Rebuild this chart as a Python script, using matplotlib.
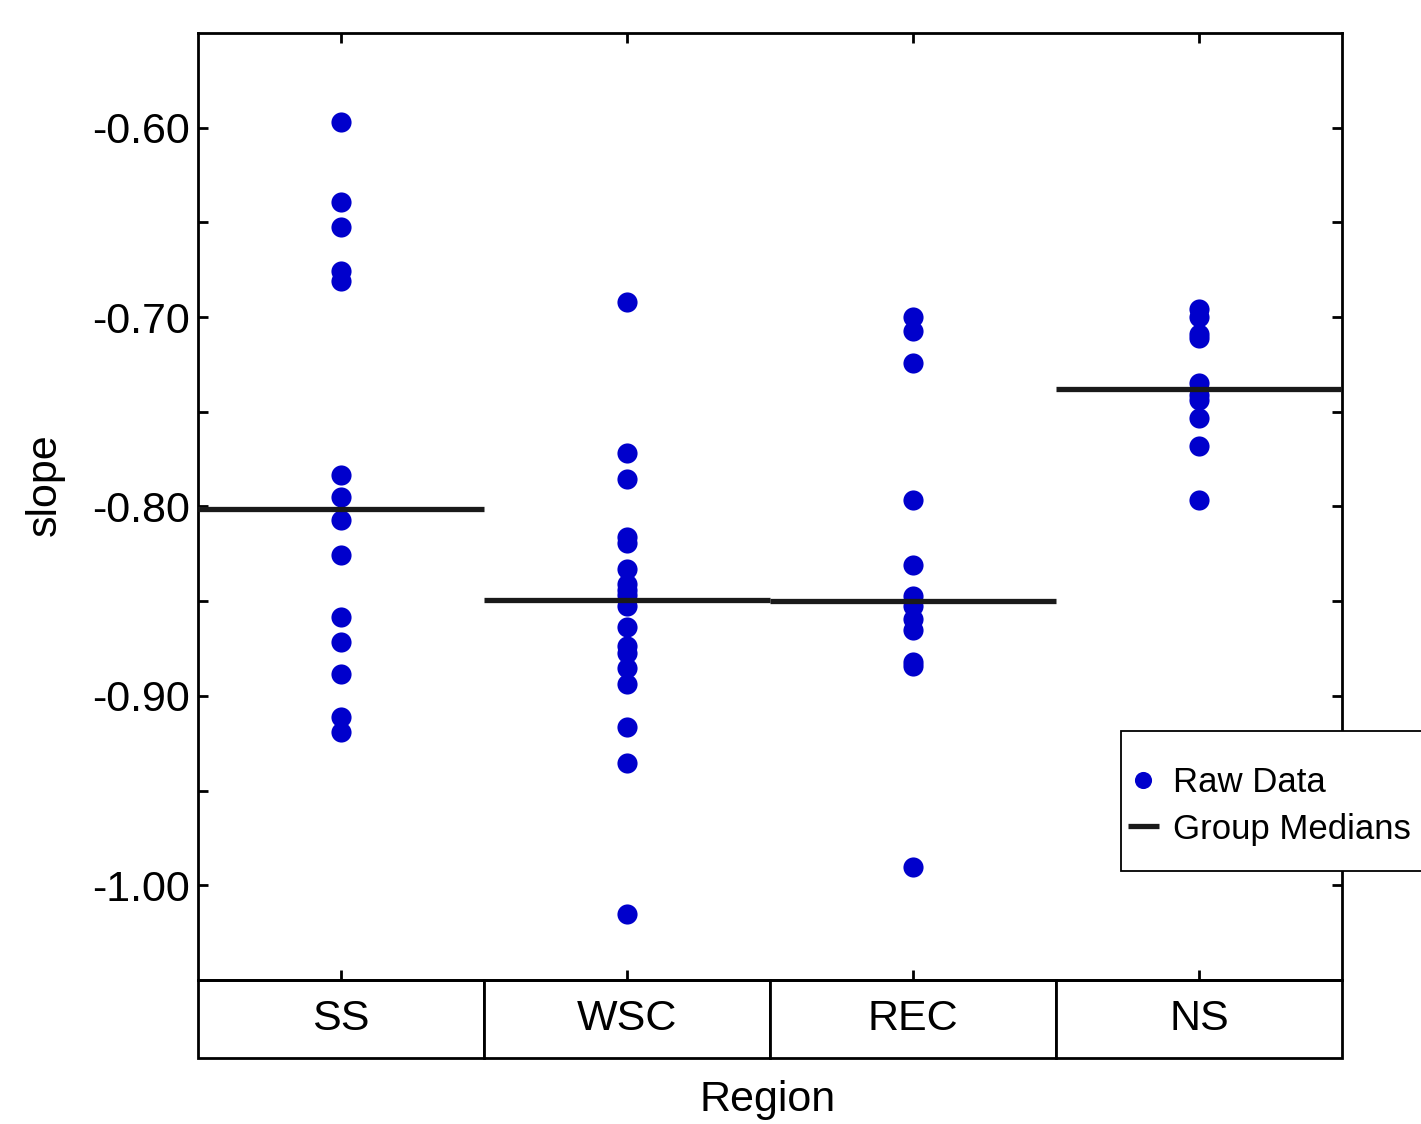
import numpy as np
import matplotlib
matplotlib.use('Agg')
from matplotlib import pyplot as plt
from matplotlib.patches import Rectangle

plt.rcParams['font.family'] = ['Liberation Sans', 'DejaVu Sans']

REGIONS = ['SS', 'WSC', 'REC', 'NS']

slope_ss = [-0.5971, -0.6390, -0.6524, -0.6756, -0.6808, -0.7834, -0.7950,
            -0.8072, -0.8256, -0.8582, -0.8715, -0.8885, -0.9112, -0.9190]
slope_wsc = [-0.6919, -0.7717, -0.7855, -0.8161, -0.8193, -0.8330, -0.8410,
             -0.8441, -0.8465, -0.8525, -0.8637, -0.8737, -0.8774, -0.8854,
             -0.8938, -0.9165, -0.9355, -1.0153]
slope_rec = [-0.6997, -0.7076, -0.7243, -0.7967, -0.8309, -0.8473, -0.8526,
             -0.8596, -0.8654, -0.8822, -0.8843, -0.9905]
slope_ns = [-0.6956, -0.6999, -0.7088, -0.7110, -0.7347, -0.7411, -0.7437,
            -0.7532, -0.7680, -0.7966]

groups = [slope_ss, slope_wsc, slope_rec, slope_ns]

W, H = 1421, 1124
fig = plt.figure(figsize=(W / 100, H / 100), dpi=100)
ax = fig.add_axes([198 / W, 1 - 980 / H, (1342 - 198) / W, (980 - 33) / H])

dot_color = '#0000cc'
line_color = '#1a1a1a'

for i, vals in enumerate(groups):
    pos = i + 1
    ax.plot([pos] * len(vals), vals, 'o', color=dot_color, markersize=14.5,
            markeredgewidth=0, label='Raw Data' if i == 0 else None, zorder=2)
    ax.plot([pos - 0.5, pos + 0.5], [np.median(vals)] * 2, '-', color=line_color,
            linewidth=3.8, solid_capstyle='butt',
            label='Group Medians' if i == 0 else None, zorder=3)

ax.set_xlim(0.5, 4.5)
ax.set_ylim(-1.05, -0.55)
ax.set_yticks([-1.0, -0.9, -0.8, -0.7, -0.6])
ax.set_yticks([-1.0 + 0.05 + 0.1 * k for k in range(4)], minor=True)
ax.set_yticklabels([f'{t:.2f}' for t in [-1.0, -0.9, -0.8, -0.7, -0.6]])
ax.set_xticks([1, 2, 3, 4])
ax.set_xticklabels([])
ax.tick_params(which='both', direction='in', top=True, right=True,
               length=7, width=2, labelsize=31, pad=6)
for sp in ax.spines.values():
    sp.set_linewidth(2)

# category boxes below the plot
table = ax.table(cellText=[REGIONS], cellLoc='center',
                 bbox=[0, -78 / 947, 1, 78 / 947])
table.auto_set_font_size(False)
table.set_fontsize(31)
for cell in table.get_celld().values():
    cell.set_linewidth(2)

fig.text(768 / W, 1 - 1100 / H, 'Region', ha='center', va='center', fontsize=31)
fig.text(45 / W, 1 - 485 / H, 'slope', ha='center', va='center',
         rotation=90, fontsize=31)

# legend box runs off the right edge of the figure
fig.patches.append(Rectangle((1121 / W, 1 - 871 / H), 320 / W, 140 / H,
                             transform=fig.transFigure, facecolor='white',
                             edgecolor='black', linewidth=1.3, zorder=5))
leg = fig.legend(loc='center left', bbox_to_anchor=(1121 / W, 1 - 806 / H),
                 frameon=False, fontsize=25, handlelength=0.88,
                 handletextpad=0.42, borderpad=0.2, borderaxespad=0,
                 labelspacing=0.38, markerscale=0.85)
leg.set_zorder(6)

fig.savefig('out.png', dpi=100)
